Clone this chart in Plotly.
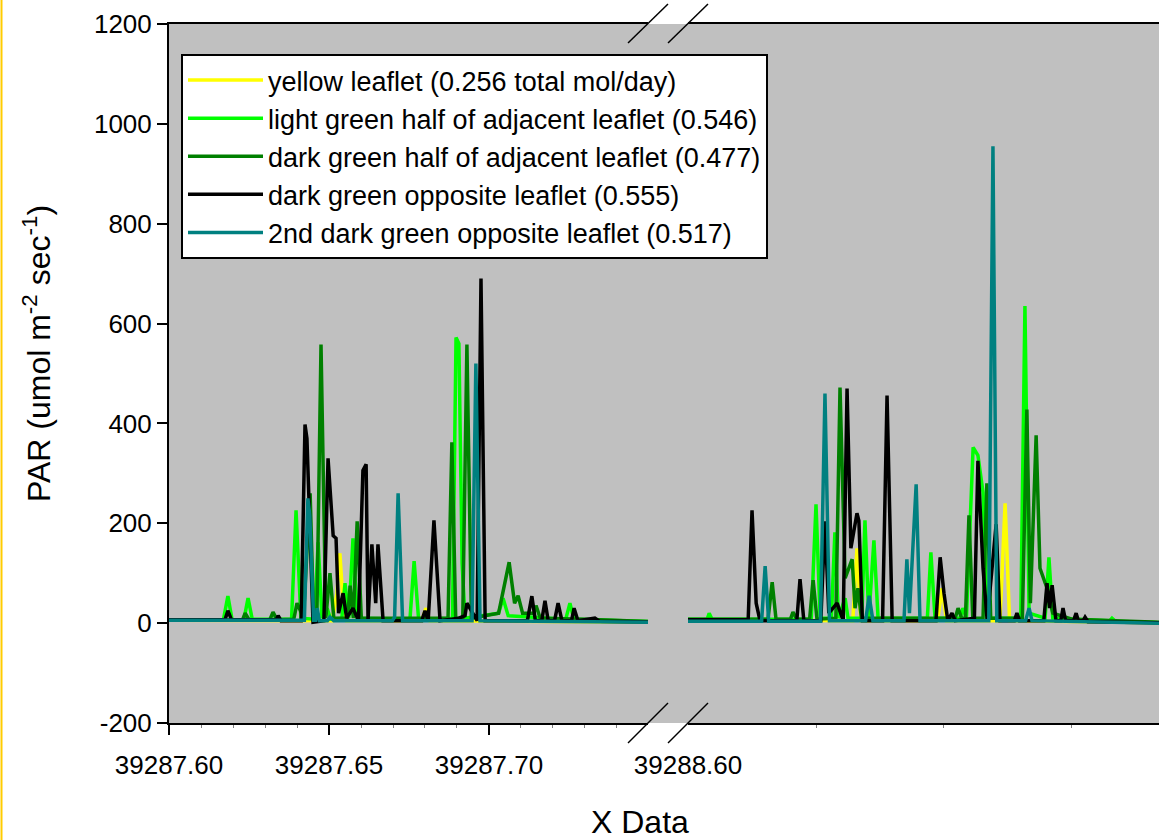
import plotly.graph_objects as go

# ---------------- data ----------------
series_names = [
    "yellow leaflet (0.256 total mol/day)",
    "light green half of adjacent leaflet (0.546)",
    "dark green half of adjacent leaflet (0.477)",
    "dark green opposite leaflet (0.555)",
    "2nd dark green opposite leaflet (0.517)",
]
series_colors = ["#ffff00", "#00ff00", "#008000", "#000000", "#008080"]

yellow_x = [39287.6000, 39287.6400, 39287.6510, 39287.6525, 39287.6534, 39287.6544, 39287.6555,
            39287.6790, 39287.6803, 39287.6815, 39287.7000, 39287.7500,
            39288.6000, 39288.6515, 39288.6528, 39288.6540, 39288.6780, 39288.6794, 39288.6808,
            39288.6975, 39288.6991, 39288.7005, 39288.7472]
yellow_y = [6, 6, 5, 60, 140, 40, 5,
            5, 30, 5, 4, 2,
            6, 5, 150, 5, 5, 70, 5,
            5, 240, 5, 1]

lightgreen_x = [39287.6000, 39287.6170, 39287.6184, 39287.6197, 39287.6234, 39287.6247, 39287.6260,
                39287.6383, 39287.6397, 39287.6412, 39287.6455, 39287.6466, 39287.6478, 39287.6494,
                39287.6505, 39287.6540, 39287.6550, 39287.6562, 39287.6575, 39287.6588, 39287.6753,
                39287.6766, 39287.6780, 39287.6886, 39287.6897, 39287.6906, 39287.6916, 39287.6925,
                39287.7030, 39287.7044, 39287.7060, 39287.7240, 39287.7253, 39287.7265, 39287.7500,
                39288.6000, 39288.6060, 39288.6066, 39288.6075, 39288.6385, 39288.6400, 39288.6413,
                39288.6448, 39288.6459, 39288.6470, 39288.6491, 39288.6500, 39288.6543, 39288.6553,
                39288.6565, 39288.6581, 39288.6594, 39288.6748, 39288.6759, 39288.6772, 39288.6850,
                39288.6859, 39288.6870, 39288.6891, 39288.6906, 39288.6922, 39288.6935, 39288.7040,
                39288.7053, 39288.7066, 39288.7116, 39288.7128, 39288.7140, 39288.7318, 39288.7325,
                39288.7335, 39288.7472]
lightgreen_y = [7, 7, 54, 7, 7, 50, 8,
                8, 226, 10, 8, 162, 10, 30,
                8, 10, 80, 10, 170, 10, 8,
                124, 8, 10, 572, 560, 120, 10,
                20, 50, 15, 8, 40, 8, 3,
                8, 8, 20, 8, 8, 238, 10,
                10, 182, 10, 50, 10, 10, 206,
                10, 166, 10, 10, 142, 10, 10,
                30, 10, 352, 336, 262, 10, 10,
                635, 20, 10, 132, 10, 5, 10,
                4, 1]

darkgreen_x = [39287.6000, 39287.6230, 39287.6238, 39287.6250, 39287.6315, 39287.6325, 39287.6337,
               39287.6390, 39287.6400, 39287.6420, 39287.6441, 39287.6452, 39287.6462, 39287.6475,
               39287.6490, 39287.6503, 39287.6515, 39287.6558, 39287.6566, 39287.6576, 39287.6588,
               39287.6601, 39287.6872, 39287.6884, 39287.6896, 39287.6918, 39287.6931, 39287.6945,
               39287.7030, 39287.7063, 39287.7080, 39287.7091, 39287.7105, 39287.7140, 39287.7147,
               39287.7160, 39287.7300, 39287.7500,
               39288.6000, 39288.6250, 39288.6263, 39288.6275, 39288.6320, 39288.6328, 39288.6340,
               39288.6380, 39288.6391, 39288.6403, 39288.6462, 39288.6475, 39288.6491, 39288.6513,
               39288.6522, 39288.6531, 39288.6542, 39288.6835, 39288.6844, 39288.6855, 39288.6867,
               39288.6878, 39288.6890, 39288.6922, 39288.6934, 39288.6946, 39288.7045, 39288.7059,
               39288.7070, 39288.7088, 39288.7100, 39288.7122, 39288.7140, 39288.7200, 39288.7472]
darkgreen_y = [7, 7, 20, 7, 7, 22, 7,
               8, 40, 12, 260, 10, 10, 558,
               10, 100, 10, 10, 75, 10, 204,
               10, 10, 362, 10, 10, 558, 10,
               20, 122, 40, 55, 20, 20, 35,
               10, 8, 3,
               8, 8, 82, 8, 8, 22, 8,
               8, 86, 8, 10, 472, 90, 128,
               30, 70, 10, 10, 30, 10, 10,
               216, 10, 10, 280, 10, 10, 428,
               40, 376, 110, 70, 20, 8, 2]

black_x = [39287.6000, 39287.6175, 39287.6184, 39287.6195, 39287.6335, 39287.6341, 39287.6350,
           39287.6413, 39287.6425, 39287.6431, 39287.6450, 39287.6484, 39287.6497, 39287.6513,
           39287.6522, 39287.6530, 39287.6544, 39287.6555, 39287.6575, 39287.6592, 39287.6606,
           39287.6616, 39287.6622, 39287.6634, 39287.6646, 39287.6653, 39287.6669, 39287.6790,
           39287.6800, 39287.6810, 39287.6828, 39287.6847, 39287.6906, 39287.6925, 39287.6931,
           39287.6963, 39287.6975, 39287.6988, 39287.7120, 39287.7134, 39287.7145, 39287.7165,
           39287.7175, 39287.7185, 39287.7205, 39287.7216, 39287.7228, 39287.7258, 39287.7266,
           39287.7278, 39287.7331, 39287.7345, 39287.7500,
           39288.6000, 39288.6188, 39288.6200, 39288.6213, 39288.6225, 39288.6340, 39288.6350,
           39288.6362, 39288.6415, 39288.6428, 39288.6440, 39288.6466, 39288.6485, 39288.6497,
           39288.6509, 39288.6528, 39288.6534, 39288.6545, 39288.6608, 39288.6622, 39288.6638,
           39288.6775, 39288.6788, 39288.6800, 39288.6812, 39288.6825, 39288.6835, 39288.6895,
           39288.6906, 39288.6922, 39288.6935, 39288.6963, 39288.6975, 39288.7020, 39288.7028,
           39288.7036, 39288.7112, 39288.7122, 39288.7130, 39288.7138, 39288.7150, 39288.7165,
           39288.7172, 39288.7180, 39288.7205, 39288.7213, 39288.7220, 39288.7235, 39288.7241,
           39288.7250, 39288.7472]
black_y = [7, 7, 25, 7, 7, 15, 5,
           5, 398, 370, 2, 5, 330, 175,
           170, 20, 60, 10, 30, 5, 306,
           318, 5, 158, 40, 158, 5, 5,
           25, 5, 206, 5, 10, 15, 40,
           5, 690, 5, 5, 54, 5, 5,
           45, 5, 5, 40, 5, 5, 30,
           5, 10, 4, 2,
           7, 7, 226, 40, 5, 5, 88,
           5, 5, 204, 20, 40, 5, 470,
           150, 220, 205, 5, 5, 456, 5,
           5, 132, 60, 5, 20, 5, 10,
           325, 110, 5, 198, 5, 5, 20,
           5, 5, 80, 30, 76, 5, 5,
           30, 5, 5, 20, 5, 5, 12,
           3, 1]

teal_x = [39287.6000, 39287.6423, 39287.6434, 39287.6440, 39287.6452, 39287.6458, 39287.6463,
          39287.6470, 39287.6495, 39287.6503, 39287.6515, 39287.6698, 39287.6705, 39287.6716,
          39287.6730, 39287.6947, 39287.6959, 39287.6972, 39287.7500,
          39288.6000, 39288.6230, 39288.6241, 39288.6252, 39288.6414, 39288.6428, 39288.6442,
          39288.6555, 39288.6566, 39288.6578, 39288.6675, 39288.6684, 39288.6692, 39288.6713,
          39288.6725, 39288.6940, 39288.6953, 39288.6965, 39288.7055, 39288.7066, 39288.7075,
          39288.7472]
teal_y = [6, 6, 250, 215, 6, 6, 30,
          5, 5, 12, 5, 5, 12, 260,
          5, 5, 520, 5, 2,
          4, 4, 114, 4, 4, 460, 5,
          5, 55, 5, 5, 128, 20, 278,
          5, 5, 955, 5, 5, 30, 5,
          0]

left_ticks = [39287.60, 39287.65, 39287.70]
left_tick_labels = ["39287.60", "39287.65", "39287.70"]
right_ticks = [39288.60]
right_tick_labels = ["39288.60"]
right_minor_ticks = [39288.64, 39288.68, 39288.72]
y_ticks = [-200, 0, 200, 400, 600, 800, 1000, 1200]
y_tick_labels = ["-200", "0", "200", "400", "600", "800", "1000", "1200"]
x_title = "X Data"
y_title = "PAR (umol m<sup>-2</sup> sec<sup>-1</sup>)"

# ---------------- figure ----------------
series = [(yellow_x, yellow_y), (lightgreen_x, lightgreen_y), (darkgreen_x, darkgreen_y),
          (black_x, black_y), (teal_x, teal_y)]

fig = go.Figure()
BREAK = 39288.0
for (xs, ys), name, col in zip(series, series_names, series_colors):
    lx = [x for x in xs if x < BREAK]
    ly = [y for x, y in zip(xs, ys) if x < BREAK]
    rx = [x for x in xs if x >= BREAK]
    ry = [y for x, y in zip(xs, ys) if x >= BREAK]
    fig.add_trace(go.Scatter(x=lx, y=ly, mode="lines", name=name, legendgroup=name,
                             line=dict(color=col, width=3.5), xaxis="x", yaxis="y"))
    fig.add_trace(go.Scatter(x=rx, y=ry, mode="lines", name=name, legendgroup=name,
                             showlegend=False, line=dict(color=col, width=3.5),
                             xaxis="x2", yaxis="y"))

W, H = 1159, 840
ML, MR, MT, MB = 169, 0, 24, 117
pw = W - ML - MR
ph = H - MT - MB
left_end = (648 - ML) / pw
right_start = (688 - ML) / pw

FONT = "Liberation Sans, Arial, sans-serif"
GRAY = "#c0c0c0"

axis_common = dict(showline=True, linecolor="black", linewidth=2, mirror=True,
                   showgrid=False, zeroline=False, tickfont=dict(size=26, color="black"),
                   ticklen=10, tickwidth=1.5, tickcolor="black")


def px_x(px):
    return (px - ML) / pw


def px_y(py):
    return (H - MB - py) / ph


shapes = [
    dict(type="rect", xref="paper", yref="paper", x0=left_end, x1=right_start, y0=0, y1=1,
         fillcolor=GRAY, line=dict(width=0), layer="below"),
]
# break marks (top and bottom)
for (x0, y0, x1, y1) in [(628, 43, 668, 4), (668, 43, 708, 4),
                         (628, 743, 668, 703), (668, 743, 708, 703)]:
    shapes.append(dict(type="line", xref="paper", yref="paper",
                       x0=px_x(x0), y0=px_y(y0), x1=px_x(x1), y1=px_y(y1),
                       line=dict(color="black", width=1.5)))
# yellow page edge line at left
shapes.append(dict(type="line", xref="paper", yref="paper",
                   x0=px_x(1.5), x1=px_x(1.5), y0=px_y(840), y1=px_y(0),
                   line=dict(color="#ffcc00", width=2)))

annotations = [
    dict(text=x_title, xref="paper", yref="paper", x=px_x(640), y=px_y(822),
         xanchor="center", yanchor="middle", showarrow=False,
         font=dict(size=32, color="black", family=FONT)),
    dict(text=y_title, xref="paper", yref="paper", x=px_x(37), y=px_y(354),
         xanchor="center", yanchor="middle", showarrow=False, textangle=-90,
         font=dict(size=32, color="black", family=FONT)),
]

fig.update_layout(
    width=W, height=H,
    margin=dict(l=ML, r=MR, t=MT, b=MB, pad=0),
    paper_bgcolor="white", plot_bgcolor=GRAY,
    font=dict(family=FONT, color="black"),
    showlegend=True,
    legend=dict(x=px_x(181), y=px_y(54), xanchor="left", yanchor="top",
                bgcolor="white", bordercolor="black", borderwidth=2,
                font=dict(size=27, color="black"), tracegroupgap=0, itemwidth=75),
    xaxis=dict(domain=[0, left_end], range=[39287.59999, 39287.7497],
               tickvals=left_ticks, ticktext=left_tick_labels, ticks="outside",
               ticklabelstandoff=8,
               minor=dict(tick0=39287.60, dtick=0.01, ticks="outside", ticklen=3,
                          tickcolor="#808080", tickwidth=1),
               anchor="y", **axis_common),
    xaxis2=dict(domain=[right_start, 1], range=[39288.59999, 39288.7472],
                tickvals=right_ticks, ticktext=right_tick_labels, ticks="",
                ticklabelstandoff=18,
                minor=dict(tickvals=right_minor_ticks, ticks="outside",
                           ticklen=3, tickcolor="#808080", tickwidth=1),
                anchor="y", **axis_common),
    yaxis=dict(domain=[0, 1], range=[-200, 1200], tickvals=y_ticks, ticktext=y_tick_labels,
               ticks="outside",
               **{k: v for k, v in axis_common.items() if k != "mirror"}),
    shapes=shapes,
    annotations=annotations,
)

fig.write_html("out.html", config={"displayModeBar": False},
               post_script="document.body.style.margin='0';")
